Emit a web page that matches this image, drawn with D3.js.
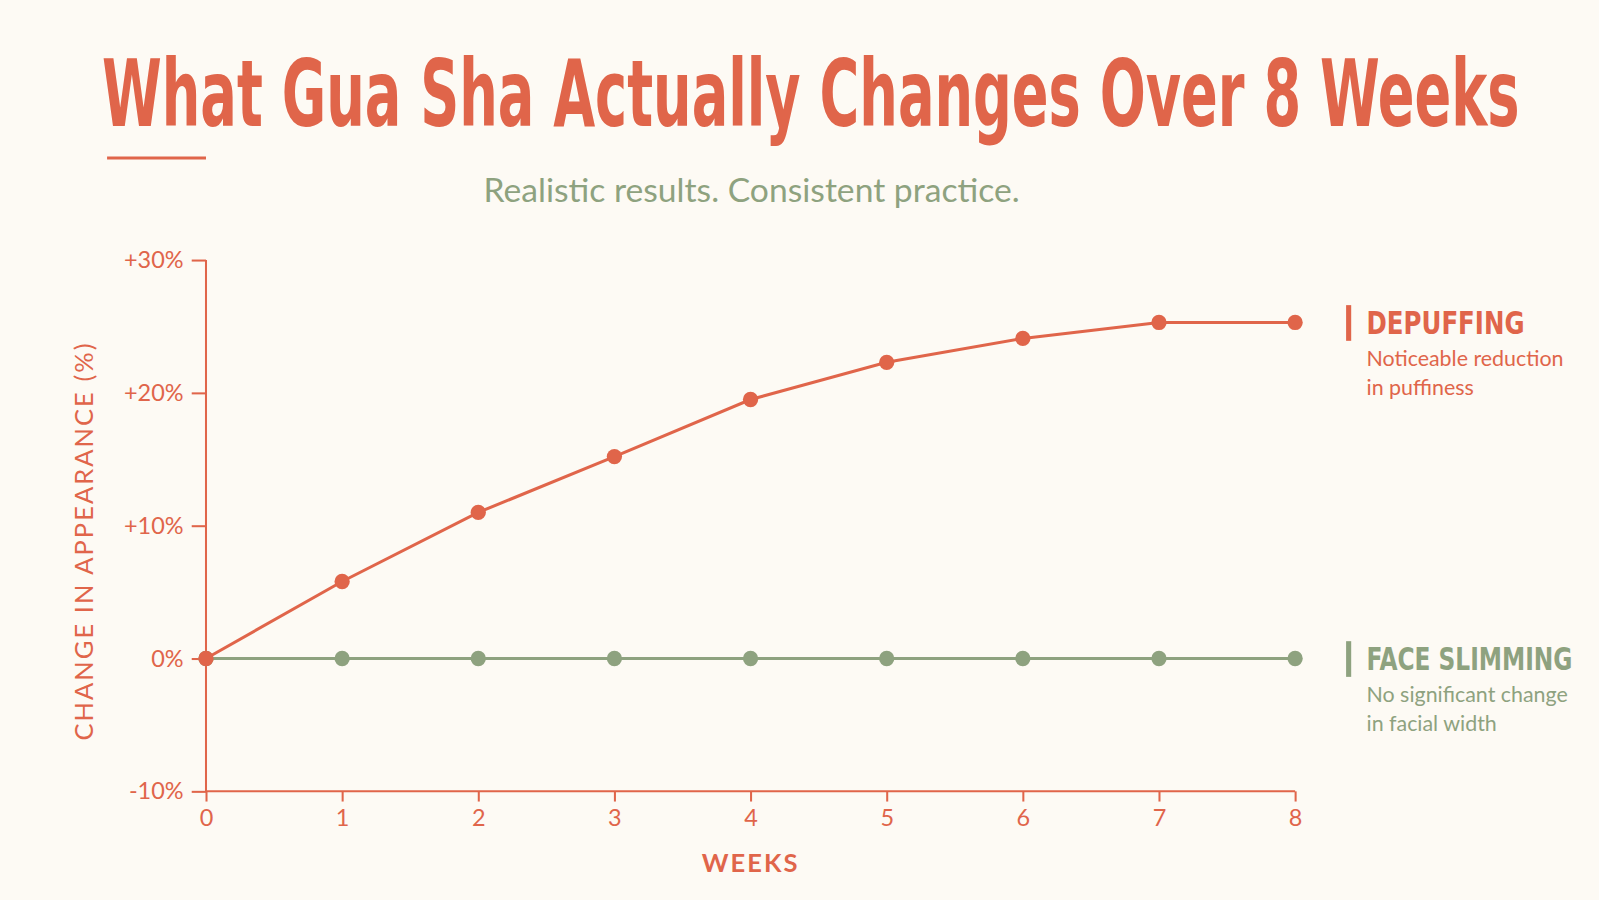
<!DOCTYPE html>
<html>
<head>
<meta charset="utf-8">
<script src="https://cdn.jsdelivr.net/npm/d3@7"></script>
<style>
  body { margin: 0; background: #fdfaf4; }
  svg { display: block; }
</style>
</head>
<body>
<svg id="chart" width="1599" height="900"></svg>
<script>
"use strict";

const weeks = [0, 1, 2, 3, 4, 5, 6, 7, 8];
const depuffing = [0, 5.8, 11.0, 15.2, 19.5, 22.3, 24.1, 25.3, 25.3];
const faceSlimming = [0, 0, 0, 0, 0, 0, 0, 0, 0];
const yTicks = [-10, 0, 10, 20, 30];
const seriesNames = ["DEPUFFING", "FACE SLIMMING"];
const seriesNotes = [["Noticeable reduction", "in puffiness"], ["No significant change", "in facial width"]];

const orange = "#e0654a";
const green = "#8ea27f";
const condensed = "'Liberation Sans Narrow', 'DejaVu Sans Condensed', sans-serif";
const body = "Lato, 'Open Sans', sans-serif";

const root = d3.select("#chart");
root.append("rect").attr("width", 1599).attr("height", 900).attr("fill", "#fdfaf4");
// layout was measured on a 1568-wide copy; scale up to full size
const svg = root.append("g").attr("transform", `scale(${1599 / 1568})`);

// title block
svg.append("text")
  .attr("x", 100).attr("y", 124)
  .attr("textLength", 1390).attr("lengthAdjust", "spacingAndGlyphs")
  .style("font-family", condensed).style("font-weight", 700).style("font-size", "90px")
  .attr("fill", orange)
  .text("What Gua Sha Actually Changes Over 8 Weeks");
svg.append("line")
  .attr("x1", 105).attr("x2", 202).attr("y1", 155).attr("y2", 155)
  .attr("stroke", orange).attr("stroke-width", 3);
svg.append("text")
  .attr("x", 737).attr("y", 198).attr("text-anchor", "middle")
  .style("font-family", body).style("font-size", "33px")
  .attr("fill", green)
  .text("Realistic results. Consistent practice.");

const x = d3.scaleLinear().domain([0, 8]).range([202, 1270]);
const y = d3.scaleLinear().domain([-10, 30]).range([776, 255]);

// axes
const xAxis = svg.append("g").attr("transform", `translate(0,${y(-10)})`)
  .call(d3.axisBottom(x).tickValues(weeks).tickSize(10).tickPadding(8).tickFormat(d3.format("d")));
const yAxis = svg.append("g").attr("transform", `translate(${x(0)},0)`)
  .call(d3.axisLeft(y).tickValues(yTicks).tickSize(14).tickPadding(8)
    .tickFormat(d => d > 0 ? `+${d}%` : `${d}%`));
[xAxis, yAxis].forEach(g => {
  g.selectAll("path, line").attr("stroke", orange).attr("stroke-width", 2);
  g.selectAll("text").attr("fill", orange)
    .style("font-family", body).style("font-size", "23px");
});
xAxis.select(".domain").attr("d", `M${x(0)},0H${x(8)}`);
yAxis.select(".domain").attr("d", `M0,${y(30)}V${y(-10)}`);

svg.append("text")
  .attr("x", x(4)).attr("y", 855).attr("text-anchor", "middle")
  .style("font-family", body).style("font-weight", 700).style("font-size", "25px")
  .style("letter-spacing", "2px").attr("fill", orange).text("WEEKS");
svg.append("text")
  .attr("transform", `translate(91,${y(10) + 15}) rotate(-90)`)
  .attr("text-anchor", "middle")
  .style("font-family", body).style("font-size", "25px")
  .style("letter-spacing", "2px").attr("fill", orange).text("CHANGE IN APPEARANCE (%)");

// series
const series = [
  { values: faceSlimming, color: green, width: 3 },
  { values: depuffing, color: orange, width: 3 }
];
const line = d3.line().x((d, i) => x(weeks[i])).y(d => y(d));
series.forEach(s => {
  svg.append("path").datum(s.values).attr("d", line)
    .attr("fill", "none").attr("stroke", s.color).attr("stroke-width", s.width);
  svg.selectAll(null).data(s.values).enter().append("circle")
    .attr("cx", (d, i) => x(weeks[i])).attr("cy", d => y(d))
    .attr("r", 7.5).attr("fill", s.color);
});

// end labels
const labelY = [depuffing[depuffing.length - 1], faceSlimming[faceSlimming.length - 1]];
[orange, green].forEach((c, k) => {
  const yy = y(labelY[k]);
  const g = svg.append("g").attr("transform", `translate(1320,${yy})`);
  g.append("rect").attr("x", 0).attr("y", -17).attr("width", 5).attr("height", 35).attr("fill", c);
  g.append("text").attr("x", 20).attr("y", 11)
    .attr("textLength", k === 0 ? 155 : 202).attr("lengthAdjust", "spacingAndGlyphs")
    .style("font-family", condensed).style("font-weight", 700).style("font-size", "32px")
    .attr("fill", c).text(seriesNames[k]);
  seriesNotes[k].forEach((t, j) => {
    g.append("text").attr("x", 20).attr("y", 43 + j * 28)
      .style("font-family", body).style("font-size", "21px")
      .attr("fill", c).text(t);
  });
});
</script>
</body>
</html>
